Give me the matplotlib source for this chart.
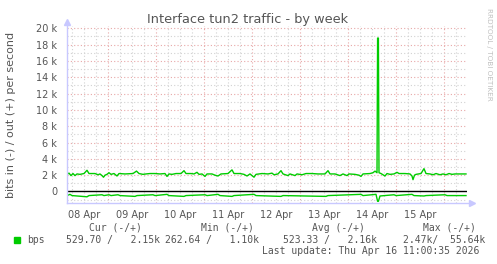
import matplotlib
matplotlib.use("Agg")
import matplotlib.pyplot as plt
from matplotlib.ticker import FuncFormatter

# ---- data (hours since 08 Apr 00:00, values in k bits/s) ----
out_hours = [3.5, 4.5, 5.5, 6.5, 7.5, 8.5, 10, 12, 13.5, 14.5, 17.5, 19, 20, 21, 21.75, 22.5,
             23.5, 24.5, 25.5, 27, 28.5, 29.5, 32.5, 36.5, 38.25, 39.5, 41.5, 43, 45, 47.5,
             50, 52.5, 53.5, 54.5, 56, 58, 60.5, 62, 63, 65.5, 67, 68.5, 69.5, 71, 72.5,
             73.5, 76, 77.5, 79, 80.5, 84, 86, 87, 90, 92, 93.5, 95, 97, 98, 101, 104,
             106, 107, 109, 110.5, 111.5, 114, 115, 117.5, 118.5, 121, 123, 126, 129,
             132.5, 134, 135, 137.5, 140, 141.5, 143.5, 144.5, 147.5, 149.5, 150.5, 151.5,
             155, 156.5, 157.5, 158.5, 158.8, 159.2, 159.5, 160.5, 162.5, 163.5, 165, 167,
             168.5, 169.5, 172.5, 175, 176, 176.5, 177.25, 178, 180.5, 182, 183, 185,
             186.5, 188, 190, 191.5, 193, 194.5, 196, 197.5, 200, 203]
out_vals = [2.1, 2.25, 1.95, 2.2, 1.95, 2.15, 2.1, 2.2, 2.6, 2.2, 2.2, 2.05, 2.15, 1.95, 1.75, 2.0,
            2.1, 2.3, 2.1, 2.2, 1.9, 2.2, 2.15, 2.2, 2.5, 2.2, 2.1, 2.15, 2.2, 2.2,
            2.15, 2.2, 1.85, 2.15, 2.1, 2.2, 2.2, 2.55, 2.2, 2.2, 2.15, 2.35, 2.1, 2.15, 1.85,
            2.15, 2.15, 2.0, 1.9, 2.15, 2.2, 2.65, 2.2, 2.2, 2.1, 1.9, 2.15, 1.75, 2.1, 2.2, 2.15,
            2.25, 2.05, 2.15, 2.55, 2.15, 1.95, 2.15, 1.95, 2.15, 2.05, 2.2, 2.2, 2.15,
            2.15, 2.55, 2.15, 2.15, 1.95, 2.15, 1.95, 2.15, 2.1, 2.0, 1.85, 2.15,
            2.2, 2.3, 2.5, 2.3, 18.8, 18.8, 2.3, 2.2, 1.9, 2.2, 2.1, 2.15,
            2.35, 2.2, 2.2, 2.15, 1.9, 1.45, 2.0, 2.1, 2.2, 2.8, 2.2, 2.15,
            2.05, 2.2, 2.05, 2.15, 2.05, 2.2, 2.1, 2.15, 2.15, 2.15]

in_hours = [3.5, 5, 6, 13.5, 14.5, 21, 22, 24.5, 25.5, 29, 30, 37.5, 38.5, 46.5, 47.5, 53.5,
            54.5, 62, 63, 72.5, 73.5, 79, 80, 86, 87, 97, 98, 110.5, 111.5, 133, 134,
            150.5, 151.5, 158, 158.8, 159.2, 160, 167, 168, 176, 177, 182, 183, 192.5,
            193.5, 203]
in_vals = [0.5, 0.35, 0.5, 0.65, 0.5, 0.4, 0.5, 0.4, 0.5, 0.4, 0.5, 0.6, 0.5, 0.4, 0.5, 0.35,
           0.5, 0.6, 0.5, 0.4, 0.5, 0.35, 0.5, 0.6, 0.5, 0.35, 0.5, 0.6, 0.5, 0.6, 0.5,
           0.35, 0.5, 0.35, 1.2, 1.2, 0.55, 0.4, 0.5, 0.35, 0.5, 0.55, 0.5, 0.4,
           0.5, 0.5]

day_labels = ["08 Apr", "09 Apr", "10 Apr", "11 Apr", "12 Apr", "13 Apr", "14 Apr", "15 Apr"]
y_ticks = [0, 2, 4, 6, 8, 10, 12, 14, 16, 18, 20]

title = "Interface tun2 traffic - by week"
ylabel = "bits in (-) / out (+) per second"
legend_name = "bps"
cur_txt = "529.70 /   2.15k"
min_txt = "262.64 /   1.10k"
avg_txt = "523.33 /   2.16k"
max_txt = "2.47k/  55.64k"
last_update = "Last update: Thu Apr 16 11:00:35 2026"

# ---- figure ----
W, H = 497, 264
fig = plt.figure(figsize=(W / 100, H / 100), dpi=100)
fig.patch.set_facecolor("white")

x0, x1 = 67, 467
ytop, ybot = 26, 203
ax = fig.add_axes([x0 / W, 1 - ybot / H, (x1 - x0) / W, (ybot - ytop) / H])
ax.set_facecolor("white")

xmin, xmax = 3.5, 203.5
ymin, ymax = -1.41, 20.28
ax.set_xlim(xmin, xmax)
ax.set_ylim(ymin, ymax)

minor_c = "#d2d2d2"
major_c = "#e8a8a8"
# grid
h = 6
while h < xmax:
    if h > xmin:
        c = major_c if h % 24 == 0 else minor_c
        ax.axvline(h, color=c, lw=0.8, ls=(0, (1, 2)), zorder=1)
    h += 6
for v in range(-1, 21):
    if v == 0:
        continue
    c = major_c if v % 2 == 0 else minor_c
    ax.axhline(v, color=c, lw=0.8, ls=(0, (1, 2)), zorder=1)

ax.axhline(0, color="black", lw=1.0, zorder=3)

green = "#00cc00"
ax.plot(out_hours, out_vals, color=green, lw=1.0, zorder=4)
ax.plot(in_hours, [-v for v in in_vals], color=green, lw=1.0, zorder=4)

for s in ax.spines.values():
    s.set_visible(False)

axis_c = "#c8c8ff"
ax.plot([xmin, xmin], [ymin, ymax + 0.1], color=axis_c, lw=1.0, clip_on=False, zorder=5)
ax.plot([xmin, xmax + 1.5], [ymin, ymin], color=axis_c, lw=1.0, clip_on=False, zorder=5)
ax.plot([xmin], [ymax + 0.45], marker="^", color=axis_c, ms=4, clip_on=False, zorder=5)
ax.plot([xmax + 2.5], [ymin], marker=">", color=axis_c, ms=4, clip_on=False, zorder=5)

ax.set_yticks(y_ticks)
ax.yaxis.set_major_formatter(FuncFormatter(lambda v, p: "0" if v == 0 else f"{int(v)} k"))
ax.set_xticks([12 + 24 * i for i in range(len(day_labels))])
ax.set_xticklabels(day_labels)
ax.tick_params(axis="both", length=0, labelsize=7, colors="#555555")
ax.tick_params(axis="y", pad=7)
ax.tick_params(axis="x", pad=5)

fig.text(248 / W, 1 - 19 / H, title, ha="center", va="center", fontsize=9.3, color="#555555")
fig.text(11 / W, 1 - 115 / H, ylabel, ha="center", va="center", rotation=90,
         fontsize=8, color="#555555")
fig.text(489 / W, 1 - 8 / H, "RRDTOOL / TOBI OETIKER", ha="center", va="top",
         rotation=270, fontsize=5.2, color="#c0c0c0")

mono = "DejaVu Sans Mono"
tc = "#555555"
fs = 7
yh = 1 - 228 / H
yr = 1 - 240 / H
yl = 1 - 251 / H
for xp, t in [(89, "Cur (-/+)"), (201, "Min (-/+)"), (312, "Avg (-/+)"), (423, "Max (-/+)")]:
    fig.text(xp / W, yh, t, family=mono, fontsize=fs, color=tc, va="center")
fig.patches.append(plt.Rectangle((14 / W, 1 - 242.5 / H), 6 / W, 5.5 / H,
                                 transform=fig.transFigure, color=green, figure=fig))
fig.text(27 / W, yr, legend_name, family=mono, fontsize=fs, color=tc, va="center")
for xp, t in [(66, cur_txt), (165, min_txt), (283, avg_txt), (403, max_txt)]:
    fig.text(xp / W, yr, t, family=mono, fontsize=fs, color=tc, va="center")
fig.text(262 / W, yl, last_update, family=mono, fontsize=fs, color=tc, va="center")

fig.savefig("out.png", dpi=100, facecolor="white")
